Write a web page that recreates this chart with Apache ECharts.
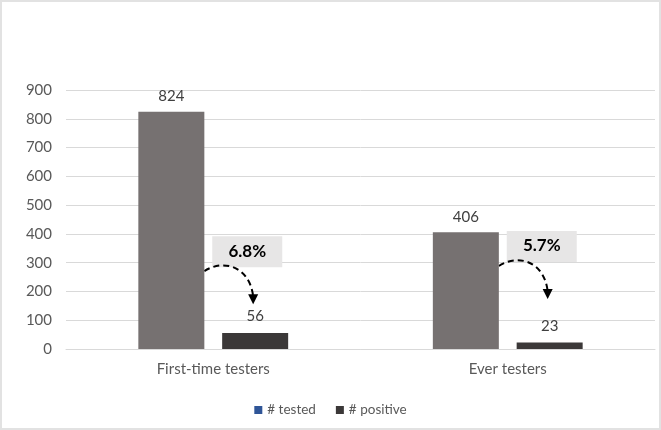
<!DOCTYPE html>
<html>
<head>
<meta charset="utf-8">
<script src="https://cdn.jsdelivr.net/npm/echarts@6/dist/echarts.min.js"></script>
<style>
  html, body { margin: 0; padding: 0; background: #fff; }
  #main { width: 661px; height: 430px; box-sizing: border-box; border: 2px solid #e2e2e2; }
</style>
</head>
<body>
<div id="main"></div>
<script>
// chart data
var categories = ["First-time testers", "Ever testers"];
var testedValues = [824, 406];
var positiveValues = [56, 23];
var yTicks = [0, 100, 200, 300, 400, 500, 600, 700, 800, 900];

// where the % boxes sit (in axis units)
var boxLevel = [340, 358];

var font = "Lato, 'Liberation Sans', sans-serif";
var chart = echarts.init(document.getElementById("main"));

chart.setOption({
  animation: false,
  textStyle: { fontFamily: font },
  grid: { left: 64, right: 4, top: 88, bottom: 79, outerBoundsMode: "none" },
  legend: {
    top: 396,
    left: "center",
    itemWidth: 8,
    itemHeight: 8,
    itemGap: 20,
    icon: "rect",
    textStyle: { color: "#595959", fontSize: 13.5, fontFamily: font },
    data: ["# tested", "# positive"]
  },
  xAxis: {
    type: "category",
    data: categories,
    axisTick: { show: false },
    axisLine: { lineStyle: { color: "#d9d9d9" } },
    axisLabel: { color: "#595959", fontSize: 15, margin: 13 }
  },
  yAxis: {
    type: "value",
    min: yTicks[0],
    max: yTicks[yTicks.length - 1],
    interval: 100,
    axisLabel: { color: "#595959", fontSize: 15, margin: 14 },
    splitLine: { lineStyle: { color: "#d9d9d9" } }
  },
  series: [
    {
      name: "# tested",
      type: "bar",
      barWidth: 66,
      barGap: "27%",
      itemStyle: { color: "#2f5597" },
      data: testedValues.map(function (v) {
        return { value: v, itemStyle: { color: "#767171" } };
      }),
      label: { show: true, position: "top", distance: 8, color: "#404040", fontSize: 15 }
    },
    {
      name: "# positive",
      type: "bar",
      barWidth: 66,
      itemStyle: { color: "#3b3838" },
      data: positiveValues,
      label: { show: true, position: "top", distance: 9, color: "#404040", fontSize: 15 }
    }
  ]
});

// percentage boxes + dashed arrows, placed from the bar layouts
function drawNotes() {
  var model = chart.getModel();
  var testedData = model.getSeriesByIndex(0).getData();
  var posData = model.getSeriesByIndex(1).getData();
  var els = [];
  for (var i = 0; i < categories.length; i++) {
    var t = testedData.getItemLayout(i);
    var p = posData.getItemLayout(i);
    var cx = chart.convertToPixel({ xAxisIndex: 0 }, categories[i]);
    var cy = chart.convertToPixel({ yAxisIndex: 0 }, boxLevel[i]);
    var pct = (positiveValues[i] / testedValues[i] * 100).toFixed(1) + "%";
    els.push({
      type: "rect",
      shape: { x: cx - 1, y: cy - 15, width: 70, height: 31 },
      style: { fill: "#e7e6e6" }
    });
    els.push({
      type: "text",
      x: cx + 34, y: cy,
      style: { text: pct, font: "bold 17px " + font, fill: "#000", align: "center", verticalAlign: "middle" }
    });
    var sx = t.x + t.width, sy = cy + 20;
    var ex = p.x + p.width / 2 - 2, ey = cy + 45;
    els.push({
      type: "bezierCurve",
      shape: { x1: sx, y1: sy, cpx1: sx + 18, cpy1: sy - 12, cpx2: ex - 4, cpy2: sy - 6, x2: ex, y2: ey },
      style: { stroke: "#000", lineWidth: 2, lineDash: [6, 4], fill: null }
    });
    els.push({
      type: "polygon",
      shape: { points: [[ex - 5, ey - 2], [ex + 5, ey - 2], [ex, ey + 8]] },
      style: { fill: "#000" }
    });
  }
  chart.setOption({ graphic: els });
}
drawNotes();
</script>
</body>
</html>
